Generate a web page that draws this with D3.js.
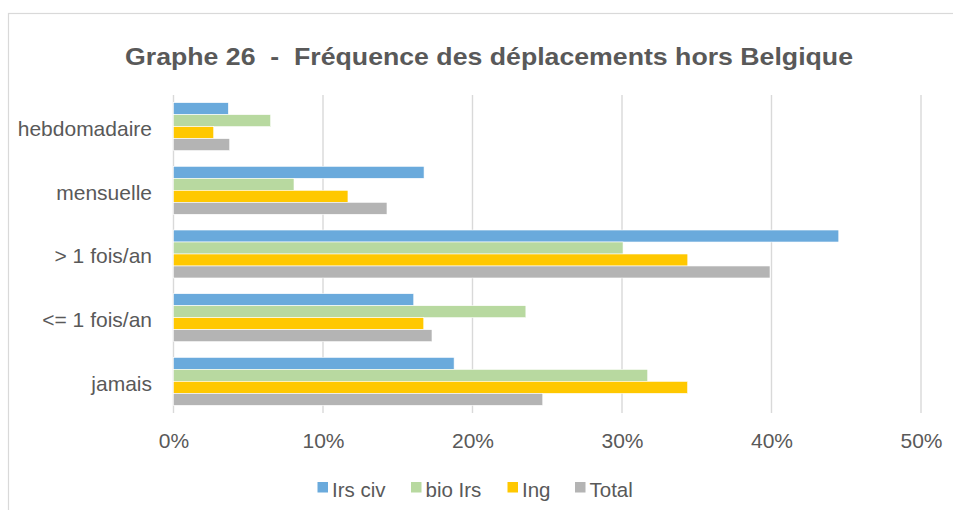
<!DOCTYPE html>
<html><head><meta charset="utf-8">
<script src="https://cdn.jsdelivr.net/npm/d3@7"></script>
<style>body{margin:0;background:#fff}svg{display:block;font-family:"Liberation Sans",Arial,sans-serif}</style>
</head><body><svg id="c" width="953" height="510"></svg>
<script>
const categories = ["hebdomadaire","mensuelle","> 1 fois/an","<= 1 fois/an","jamais"];
const seriesNames = ["Irs civ","bio Irs","Ing","Total"];
const irsCiv = [3.67,16.76,44.5,16.07,18.77];
const bioIrs = [6.5,8.06,30.07,23.57,31.72];
const ing = [2.69,11.67,34.4,16.74,34.39];
const total = [3.76,14.28,39.9,17.29,24.7];
const xTicks = [0,10,20,30,40,50];
const colors = ["#6aaadc","#b8d9a0","#ffc800","#b4b4b4"];
const title = "Graphe 26  -  Fréquence des déplacements hors Belgique";

const seriesValues = [irsCiv,bioIrs,ing,total];
const svg = d3.select("#c");
svg.append("rect").attr("x",8.5).attr("y",13.5).attr("width",970).attr("height",520)
  .attr("fill","#fff").attr("stroke","#d9d9d9").attr("stroke-width",1.2);

const pL=173.5, pR=921, pT=95, pB=413;
const x = d3.scaleLinear().domain([0,50]).range([pL,pR]);
const y = d3.scaleBand().domain(categories).range([pT,pB]).paddingInner(0.247).paddingOuter(0.12);
const y1 = d3.scaleBand().domain(seriesNames).range([0,y.bandwidth()]);

svg.append("text").attr("x",489).attr("y",64.5).attr("text-anchor","middle")
  .attr("font-size",24.5).attr("font-weight","bold").attr("fill","#595959")
  .attr("textLength",728).attr("lengthAdjust","spacingAndGlyphs")
  .style("white-space","pre").attr("xml:space","preserve").text(title);

svg.append("g").selectAll("line").data(xTicks).join("line")
  .attr("x1",d=>x(d)).attr("x2",d=>x(d)).attr("y1",pT).attr("y2",pB)
  .attr("stroke","#d9d9d9").attr("stroke-width",1.4);

const g = svg.append("g");
categories.forEach((c,i)=>{
  seriesNames.forEach((s,j)=>{
    g.append("rect").attr("x",x(0)).attr("y",y(c)+y1(s))
      .attr("width",x(seriesValues[j][i])-x(0)).attr("height",y1.bandwidth())
      .attr("fill",colors[j]).attr("stroke","#fff").attr("stroke-width",0.6);
  });
});

const xa = svg.append("g").attr("transform",`translate(0,${pB})`)
  .call(d3.axisBottom(x).tickValues(xTicks).tickFormat(d=>d+"%").tickSize(0).tickPadding(20));
xa.select(".domain").remove();
xa.selectAll("text").attr("font-size",21).attr("fill","#595959").attr("font-family","Liberation Sans, Arial, sans-serif");

const ya = svg.append("g").attr("transform",`translate(${pL},0)`)
  .call(d3.axisLeft(y).tickSize(0).tickPadding(21.5));
ya.select(".domain").remove();
ya.selectAll("text").attr("font-size",21).attr("fill","#595959").attr("dy","0.45em")
  .attr("font-family","Liberation Sans, Arial, sans-serif");

const legX = [317.5,411,507.5,575];
const leg = svg.append("g");
seriesNames.forEach((s,j)=>{
  leg.append("rect").attr("x",legX[j]).attr("y",482).attr("width",10.5).attr("height",10.5).attr("fill",colors[j]);
  leg.append("text").attr("x",legX[j]+14.5).attr("y",496.5).attr("font-size",20.5).attr("fill","#595959").text(s);
});
</script></body></html>
